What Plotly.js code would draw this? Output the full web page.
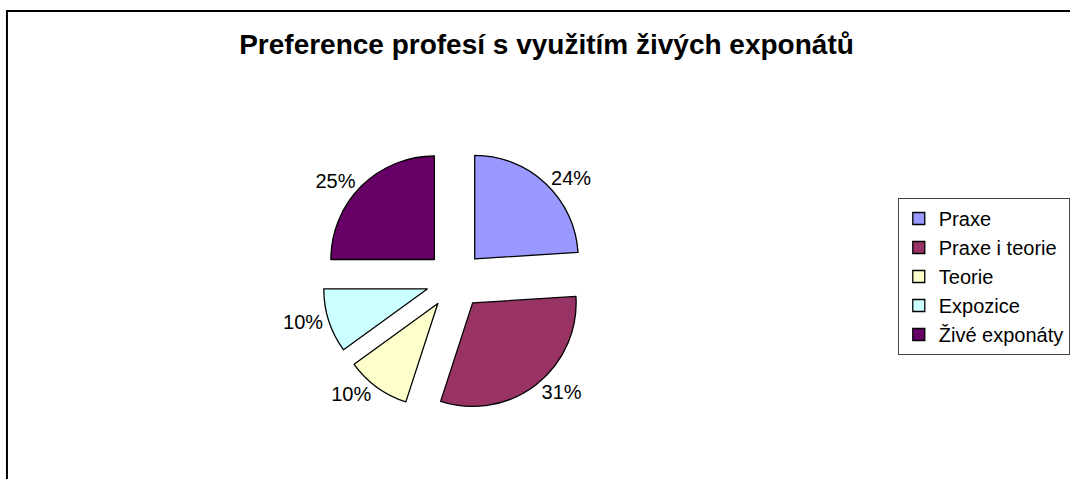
<!DOCTYPE html>
<html>
<head>
<meta charset="utf-8">
<script src="https://cdn.plot.ly/plotly-3.0.1.min.js"></script>
<style>
  html, body { margin: 0; padding: 0; background: #fff; }
  #chart { width: 1070px; height: 479px; }
</style>
</head>
<body>
<div id="chart"></div>
<script>
const categories = ["Praxe", "Praxe i teorie", "Teorie", "Expozice", "Živé exponáty"];
const shares = [24, 31, 10, 10, 25];
const sliceColors = ["#9999FF", "#993366", "#FFFFCC", "#CCFFFF", "#660066"];
const chartTitle = "Preference profesí s využitím živých exponátů";

const W = 1070, H = 479;
const fontFam = "Liberation Sans, Arial, sans-serif";

// pie geometry (pixels)
const cx = 457, cy = 280, rad = 104, pullFrac = 0.28;
const half = rad * (1 + pullFrac);

const trace = {
  type: "pie",
  labels: categories,
  values: shares,
  sort: false,
  direction: "clockwise",
  rotation: 0,
  pull: pullFrac,
  marker: { colors: sliceColors, line: { color: "#000", width: 1.3 } },
  textinfo: "percent",
  textposition: "outside",
  textfont: { family: fontFam, size: 20, color: "#000" },
  hoverinfo: "label+percent",
  domain: {
    x: [(cx - half) / W, (cx + half) / W],
    y: [(H - cy - half) / H, (H - cy + half) / H]
  }
};

const layout = {
  width: W,
  height: H,
  margin: { l: 0, r: 0, t: 0, b: 0 },
  paper_bgcolor: "#fff",
  font: { family: fontFam, color: "#000" },
  title: {
    text: chartTitle,
    font: { family: fontFam, size: 28, weight: "bold", color: "#000" },
    x: 546.5 / W,
    xanchor: "center",
    y: 1 - 44 / H,
    yanchor: "middle"
  },
  showlegend: true,
  legend: {
    x: 902 / W,
    xanchor: "left",
    y: 1 - 198 / H,
    yanchor: "top",
    bordercolor: "#444",
    borderwidth: 1,
    bgcolor: "#fff",
    font: { family: fontFam, size: 20, color: "#000" },
    traceorder: "normal"
  },
  shapes: [{
    type: "rect",
    xref: "paper", yref: "paper",
    x0: 7 / W, x1: 1.05,
    y0: -0.05, y1: 1 - 11 / H,
    line: { color: "#000", width: 2 },
    fillcolor: "rgba(0,0,0,0)",
    layer: "below"
  }]
};

Plotly.newPlot("chart", [trace], layout, { displayModeBar: false, staticPlot: true });
</script>
</body>
</html>
